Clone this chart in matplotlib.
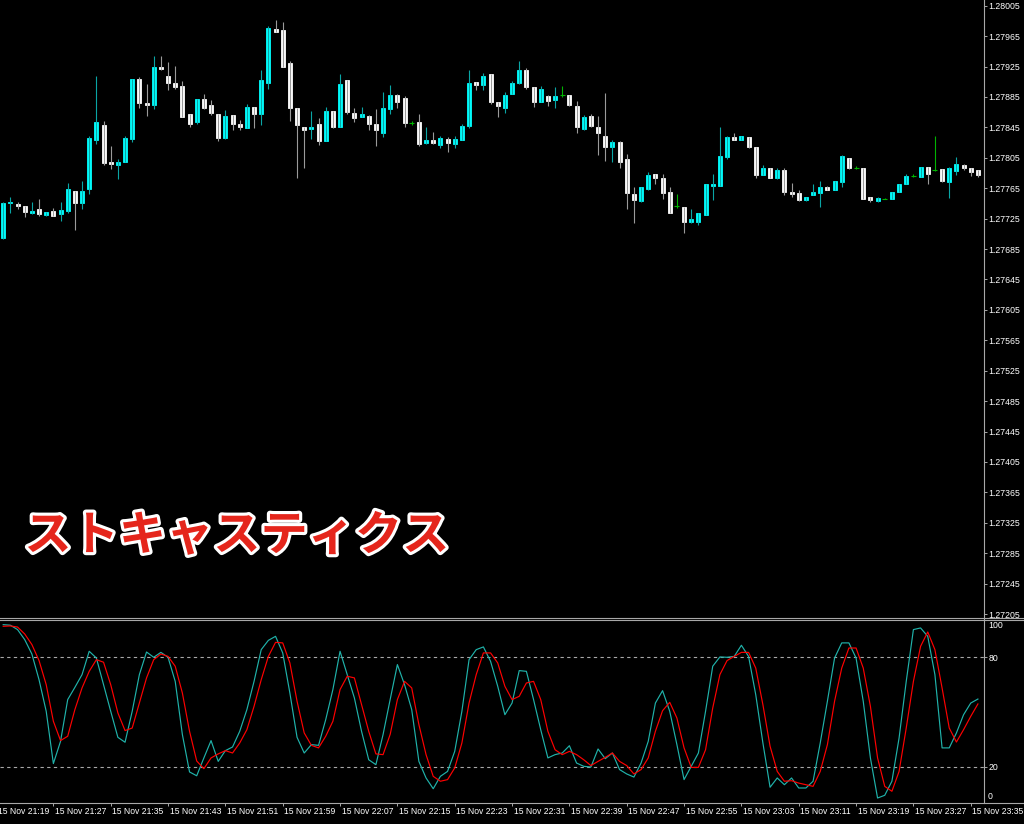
import numpy as np
import matplotlib.pyplot as plt
import matplotlib.patheffects as pe
from matplotlib.lines import Line2D

# ============================================================
# データ (1分足 15 Nov 21:20 - 23:36)
# ============================================================
opens = [
    1.27700, 1.27745, 1.27744, 1.27741, 1.27733, 1.27737, 1.27730, 1.27735, 1.27731, 1.27735,
    1.27761, 1.27746, 1.27764, 1.27829, 1.27848, 1.27800, 1.27796, 1.27799, 1.27830, 1.27908,
    1.27877, 1.27874, 1.27924, 1.27913, 1.27904, 1.27899, 1.27863, 1.27852, 1.27882, 1.27874,
    1.27863, 1.27831, 1.27861, 1.27850, 1.27844, 1.27872, 1.27862, 1.27903, 1.27975, 1.27973,
    1.27930, 1.27871, 1.27845, 1.27843, 1.27850, 1.27827, 1.27866, 1.27845, 1.27907, 1.27864,
    1.27859, 1.27860, 1.27850, 1.27838, 1.27869, 1.27887, 1.27883, 1.27851, 1.27852, 1.27824,
    1.27828, 1.27822, 1.27830, 1.27823, 1.27828, 1.27847, 1.27905, 1.27901, 1.27915, 1.27879,
    1.27871, 1.27889, 1.27904, 1.27921, 1.27898, 1.27878, 1.27886, 1.27881, 1.27887, 1.27887,
    1.27873, 1.27843, 1.27860, 1.27846, 1.27833, 1.27819, 1.27826, 1.27804, 1.27758, 1.27748,
    1.27764, 1.27784, 1.27779, 1.27760, 1.27741, 1.27740, 1.27720, 1.27720, 1.27730, 1.27768,
    1.27768, 1.27806, 1.27832, 1.27828, 1.27832, 1.27819, 1.27783, 1.27791, 1.27779, 1.27789,
    1.27760, 1.27759, 1.27749, 1.27756, 1.27759, 1.27767, 1.27763, 1.27773, 1.27805, 1.27792,
    1.27792, 1.27753, 1.27748, 1.27751, 1.27751, 1.27760, 1.27771, 1.27781, 1.27780, 1.27793,
    1.27789, 1.27790, 1.27773, 1.27788, 1.27796, 1.27791, 1.27789,
]
highs = [
    1.27747, 1.27753, 1.27747, 1.27741, 1.27747, 1.27751, 1.27734, 1.27739, 1.27747, 1.27772,
    1.27761, 1.27774, 1.27834, 1.27913, 1.27853, 1.27820, 1.27804, 1.27834, 1.27908, 1.27911,
    1.27902, 1.27939, 1.27939, 1.27931, 1.27926, 1.27906, 1.27863, 1.27882, 1.27889, 1.27881,
    1.27863, 1.27868, 1.27861, 1.27855, 1.27876, 1.27872, 1.27920, 1.27978, 1.27986, 1.27984,
    1.27932, 1.27871, 1.27845, 1.27866, 1.27857, 1.27872, 1.27866, 1.27915, 1.27907, 1.27870,
    1.27872, 1.27861, 1.27869, 1.27892, 1.27901, 1.27889, 1.27886, 1.27854, 1.27862, 1.27846,
    1.27839, 1.27833, 1.27832, 1.27834, 1.27849, 1.27920, 1.27905, 1.27917, 1.27915, 1.27879,
    1.27892, 1.27906, 1.27932, 1.27923, 1.27898, 1.27899, 1.27888, 1.27898, 1.27899, 1.27888,
    1.27880, 1.27861, 1.27863, 1.27860, 1.27890, 1.27829, 1.27827, 1.27810, 1.27767, 1.27767,
    1.27786, 1.27784, 1.27784, 1.27767, 1.27757, 1.27740, 1.27738, 1.27733, 1.27770, 1.27784,
    1.27846, 1.27833, 1.27837, 1.27833, 1.27832, 1.27819, 1.27796, 1.27792, 1.27791, 1.27791,
    1.27772, 1.27763, 1.27754, 1.27771, 1.27775, 1.27768, 1.27774, 1.27809, 1.27805, 1.27794,
    1.27792, 1.27753, 1.27753, 1.27752, 1.27760, 1.27771, 1.27784, 1.27784, 1.27793, 1.27793,
    1.27833, 1.27790, 1.27793, 1.27806, 1.27797, 1.27791, 1.27789,
]
lows = [
    1.27698, 1.27732, 1.27737, 1.27727, 1.27731, 1.27729, 1.27729, 1.27729, 1.27722, 1.27733,
    1.27710, 1.27738, 1.27758, 1.27823, 1.27795, 1.27790, 1.27777, 1.27799, 1.27826, 1.27870,
    1.27860, 1.27869, 1.27921, 1.27894, 1.27896, 1.27858, 1.27846, 1.27849, 1.27869, 1.27861,
    1.27827, 1.27830, 1.27841, 1.27842, 1.27844, 1.27844, 1.27848, 1.27896, 1.27970, 1.27924,
    1.27854, 1.27779, 1.27792, 1.27830, 1.27822, 1.27827, 1.27844, 1.27845, 1.27863, 1.27852,
    1.27858, 1.27841, 1.27820, 1.27832, 1.27862, 1.27871, 1.27846, 1.27848, 1.27820, 1.27823,
    1.27823, 1.27818, 1.27813, 1.27818, 1.27828, 1.27844, 1.27894, 1.27894, 1.27876, 1.27858,
    1.27864, 1.27889, 1.27902, 1.27895, 1.27872, 1.27878, 1.27873, 1.27871, 1.27885, 1.27873,
    1.27838, 1.27842, 1.27845, 1.27809, 1.27801, 1.27799, 1.27791, 1.27738, 1.27719, 1.27747,
    1.27763, 1.27771, 1.27751, 1.27732, 1.27739, 1.27706, 1.27719, 1.27716, 1.27730, 1.27750,
    1.27768, 1.27803, 1.27828, 1.27828, 1.27818, 1.27779, 1.27783, 1.27779, 1.27777, 1.27756,
    1.27753, 1.27748, 1.27748, 1.27756, 1.27740, 1.27763, 1.27763, 1.27767, 1.27790, 1.27790,
    1.27751, 1.27747, 1.27747, 1.27751, 1.27751, 1.27760, 1.27771, 1.27780, 1.27780, 1.27770,
    1.27788, 1.27773, 1.27752, 1.27782, 1.27789, 1.27781, 1.27780,
]
closes = [
    1.27745, 1.27747, 1.27742, 1.27734, 1.27735, 1.27731, 1.27734, 1.27729, 1.27736, 1.27764,
    1.27745, 1.27761, 1.27831, 1.27852, 1.27798, 1.27797, 1.27800, 1.27831, 1.27908, 1.27877,
    1.27875, 1.27925, 1.27922, 1.27903, 1.27898, 1.27858, 1.27850, 1.27882, 1.27871, 1.27864,
    1.27831, 1.27860, 1.27849, 1.27845, 1.27872, 1.27863, 1.27907, 1.27976, 1.27971, 1.27924,
    1.27870, 1.27848, 1.27842, 1.27846, 1.27827, 1.27866, 1.27846, 1.27902, 1.27865, 1.27857,
    1.27862, 1.27849, 1.27841, 1.27870, 1.27888, 1.27878, 1.27851, 1.27851, 1.27823, 1.27828,
    1.27825, 1.27831, 1.27824, 1.27830, 1.27847, 1.27903, 1.27901, 1.27913, 1.27878, 1.27873,
    1.27888, 1.27904, 1.27920, 1.27898, 1.27879, 1.27896, 1.27880, 1.27886, 1.27887, 1.27874,
    1.27845, 1.27859, 1.27847, 1.27838, 1.27819, 1.27826, 1.27799, 1.27759, 1.27749, 1.27767,
    1.27783, 1.27779, 1.27759, 1.27733, 1.27741, 1.27720, 1.27724, 1.27733, 1.27770, 1.27770,
    1.27807, 1.27832, 1.27828, 1.27833, 1.27819, 1.27783, 1.27792, 1.27779, 1.27789, 1.27760,
    1.27758, 1.27749, 1.27753, 1.27760, 1.27767, 1.27763, 1.27774, 1.27807, 1.27792, 1.27792,
    1.27751, 1.27749, 1.27752, 1.27751, 1.27760, 1.27771, 1.27781, 1.27781, 1.27793, 1.27784,
    1.27789, 1.27774, 1.27791, 1.27797, 1.27791, 1.27786, 1.27783,
]

# Stochastic %K (main) / %D (signal)
stoch_k = [
    97.9, 97.6, 95.2, 89.7, 81.8, 67.7, 50.4, 21.7, 33.9, 56.8,
    63.5, 70.5, 83.3, 79.6, 65.0, 50.4, 36.1, 33.4, 50.4, 70.5,
    82.9, 80.0, 82.7, 80.0, 66.8, 37.6, 17.1, 15.0, 24.8, 34.3,
    22.9, 28.8, 30.8, 39.4, 51.3, 66.8, 84.2, 89.3, 91.5, 82.4,
    60.4, 36.1, 27.5, 32.1, 31.7, 45.8, 62.3, 83.3, 70.5, 57.7,
    39.4, 23.8, 21.1, 37.6, 57.0, 76.0, 65.0, 51.3, 22.9, 13.8,
    7.9, 14.7, 17.4, 28.4, 50.4, 78.7, 84.2, 85.7, 77.8, 64.1,
    48.5, 54.9, 72.7, 72.3, 56.8, 40.3, 24.8, 26.6, 27.5, 31.5,
    22.0, 20.2, 19.8, 29.7, 24.4, 27.5, 18.4, 16.0, 14.3, 22.0,
    33.9, 54.9, 61.7, 50.4, 32.1, 12.9, 20.2, 27.5, 50.4, 75.1,
    80.2, 80.0, 80.5, 86.6, 80.5, 59.5, 33.0, 8.7, 13.8, 10.1,
    13.8, 8.3, 8.3, 12.0, 33.0, 55.9, 79.6, 87.9, 87.9, 79.6,
    55.9, 24.8, 2.8, 4.3, 12.0, 35.7, 66.8, 95.2, 96.1, 91.5,
    70.5, 30.3, 30.3, 38.5, 48.5, 54.9, 57.1,
]
stoch_d = [
    97.0, 97.2, 96.6, 92.8, 87.0, 78.2, 65.0, 44.9, 34.3, 36.7,
    51.3, 63.2, 72.3, 78.7, 77.3, 65.0, 49.5, 39.8, 41.2, 54.9,
    68.7, 78.7, 81.8, 80.5, 75.1, 60.4, 39.4, 23.1, 18.9, 24.8,
    27.0, 28.8, 27.5, 33.0, 40.3, 53.1, 67.7, 80.5, 88.2, 87.9,
    76.9, 55.9, 38.5, 31.7, 30.3, 36.7, 44.9, 62.3, 69.6, 68.7,
    54.0, 39.4, 27.0, 26.6, 37.8, 56.8, 66.8, 63.2, 43.1, 26.6,
    14.7, 12.0, 12.9, 19.3, 33.0, 54.9, 70.5, 82.4, 82.4, 76.9,
    64.1, 56.8, 58.6, 65.9, 66.8, 56.8, 39.4, 29.3, 26.6, 28.4,
    26.6, 23.8, 20.6, 22.9, 25.1, 27.5, 22.9, 20.6, 16.0, 18.4,
    24.8, 39.4, 50.7, 55.3, 46.7, 30.3, 19.6, 19.6, 29.3, 52.2,
    70.5, 78.2, 80.5, 82.7, 82.7, 74.1, 54.0, 31.2, 17.4, 12.0,
    12.3, 11.0, 10.1, 9.2, 17.4, 32.1, 55.9, 74.1, 85.1, 85.1,
    74.1, 53.1, 24.8, 9.2, 6.5, 17.4, 41.2, 66.8, 86.0, 93.9,
    84.2, 63.2, 41.2, 33.5, 40.3, 47.6, 54.4,
]

price_ticks = [1.27205, 1.27245, 1.27285, 1.27325, 1.27365, 1.27405, 1.27445,
               1.27485, 1.27525, 1.27565, 1.27605, 1.27645, 1.27685, 1.27725,
               1.27765, 1.27805, 1.27845, 1.27885, 1.27925, 1.27965, 1.28005]

# 時間軸ラベル (バー番号, 表示)
time_idx = [-1, 7, 15, 23, 31, 39, 47, 55, 63, 71, 79, 87, 95, 103, 111, 119, 127, 135]
time_labels = ["15 Nov 21:19", "15 Nov 21:27", "15 Nov 21:35", "15 Nov 21:43",
               "15 Nov 21:51", "15 Nov 21:59", "15 Nov 22:07", "15 Nov 22:15",
               "15 Nov 22:23", "15 Nov 22:31", "15 Nov 22:39", "15 Nov 22:47",
               "15 Nov 22:55", "15 Nov 23:03", "15 Nov 23:11", "15 Nov 23:19",
               "15 Nov 23:27", "15 Nov 23:35"]

# ============================================================
# 色・レイアウト
# ============================================================
BULL_BODY = "#00FFFF"
BULL_WICK = "#0AA5A5"
BEAR_BODY = "#FFFFFF"
BEAR_WICK = "#9A9A9A"
DOJI = "#00B400"
K_COLOR = "#20B2AA"
D_COLOR = "#FF0000"
GRID_GREY = "#A8A8A8"
LABEL_FONT = ["Liberation Sans", "DejaVu Sans"]

W, H = 1024, 824
fig = plt.figure(figsize=(W / 100, H / 100), dpi=100, facecolor="black")


def fx(px):
    return px / W


def fy(py):
    return 1 - py / H


ax = fig.add_axes([0, fy(617), fx(984), 617 / H])
ax2 = fig.add_axes([0, fy(803), fx(984), (803 - 620) / H])
for a in (ax, ax2):
    a.set_facecolor("black")
    for s in a.spines.values():
        s.set_visible(False)

o = np.array(opens)
h = np.array(highs)
l = np.array(lows)
c = np.array(closes)
x = np.arange(len(o))
up = c > o
dn = c < o
dj = c == o

# ============================================================
# ローソク足
# ============================================================
ax.vlines(x[up], l[up], h[up], color=BULL_WICK, lw=0.8)
ax.vlines(x[dn], l[dn], h[dn], color=BEAR_WICK, lw=0.8)
ax.bar(x[up], c[up] - o[up], bottom=o[up], width=0.55,
       color=BULL_BODY, edgecolor=BULL_BODY, lw=0.6)
ax.bar(x[dn], o[dn] - c[dn], bottom=c[dn], width=0.55,
       color=BEAR_BODY, edgecolor=BEAR_BODY, lw=0.6)
ax.vlines(x[dj], l[dj], h[dj], color=DOJI, lw=0.8)
ax.hlines(o[dj], x[dj] - 0.35, x[dj] + 0.35, color=DOJI, lw=0.8)

ax.set_xlim(-0.447, 136.85)
ax.set_ylim(1.272011, 1.280125)
ax.set_xticks([])
ax.yaxis.tick_right()
ax.set_yticks(price_ticks)
ax.set_yticklabels([f"{v:.5f}" for v in price_ticks], family=LABEL_FONT)
ax.tick_params(axis="y", colors=GRID_GREY, labelcolor="white", length=2.2,
               width=0.7, pad=0.8, labelsize=6.3)

# ============================================================
# ストキャスティクス
# ============================================================
ax2.axhline(80, color=GRID_GREY, lw=0.8, ls=(0, (3, 3)))
ax2.axhline(20, color=GRID_GREY, lw=0.8, ls=(0, (3, 3)))
ax2.plot(x, stoch_k, color=K_COLOR, lw=0.85)
ax2.plot(x, stoch_d, color=D_COLOR, lw=0.85)
ax2.set_xlim(-0.447, 136.85)
ax2.set_ylim(0.07, 100.46)
ax2.yaxis.tick_right()
ax2.set_yticks([20, 80])
ax2.set_yticklabels(["20", "80"], family=LABEL_FONT)
ax2.tick_params(axis="y", colors=GRID_GREY, labelcolor="white", length=2.2,
                width=0.7, pad=0.8, labelsize=6.3)
ax2.text(1.0, 1.0, "100", transform=ax2.transAxes, ha="left", va="top",
         color="white", fontsize=6.3, family=LABEL_FONT,
         bbox=None).set_position((1 + 4 / 984, 0.995))
ax2.text(1 + 4 / 984, 0.01, "0", transform=ax2.transAxes, ha="left", va="bottom",
         color="white", fontsize=6.3, family=LABEL_FONT)

ax2.set_xticks([i for i in time_idx if i >= 0])
ax2.set_xticklabels([])
ax2.tick_params(axis="x", colors=GRID_GREY, length=2.2, width=0.7)
for i, lab in zip(time_idx, time_labels):
    ax2.annotate(lab, xy=(i, 0), xycoords=("data", "axes fraction"),
                 xytext=(1.5, -9), textcoords="offset pixels",
                 ha="left", va="center", color="white", fontsize=6.2,
                 family=LABEL_FONT, annotation_clip=False)

# 枠線
for yy in (617.7, 619.7):
    fig.add_artist(Line2D([0, 1], [fy(yy), fy(yy)], color=GRID_GREY, lw=0.8))
fig.add_artist(Line2D([0, 1], [fy(803.3), fy(803.3)], color=GRID_GREY, lw=0.8))
fig.add_artist(Line2D([fx(984.3), fx(984.3)], [fy(0), fy(803.3)], color=GRID_GREY, lw=0.8))

# タイトル
fig.text(fx(237), fy(536), "ストキャスティクス", fontsize=34, fontweight="bold",
         color="#E5261C", ha="center", va="center",
         family=["Noto Sans CJK JP", "DejaVu Sans"],
         path_effects=[pe.withStroke(linewidth=4.5, foreground="white")])

fig.savefig("out.png", dpi=100, facecolor="black")
